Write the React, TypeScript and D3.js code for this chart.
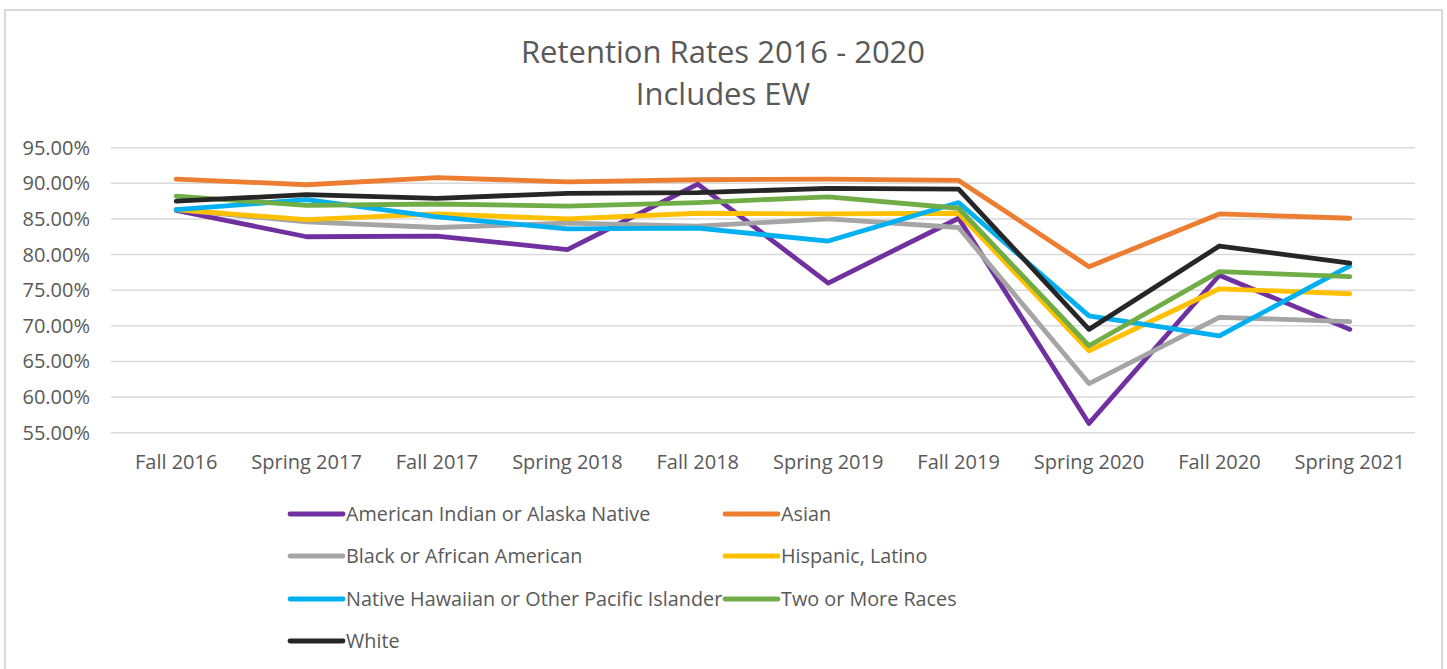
import React from "react";
import * as d3 from "d3";

const categories = [
  "Fall 2016", "Spring 2017", "Fall 2017", "Spring 2018", "Fall 2018",
  "Spring 2019", "Fall 2019", "Spring 2020", "Fall 2020", "Spring 2021",
];

const americanIndian = [86.2, 82.5, 82.6, 80.7, 89.9, 76.0, 85.1, 56.3, 77.1, 69.5];
const asian = [90.6, 89.8, 90.8, 90.2, 90.5, 90.6, 90.4, 78.3, 85.7, 85.1];
const black = [86.3, 84.6, 83.8, 84.4, 84.0, 85.0, 83.8, 61.9, 71.2, 70.6];
const hispanic = [86.3, 84.9, 85.7, 85.0, 85.8, 85.7, 85.8, 66.5, 75.2, 74.5];
const hawaiian = [86.3, 87.7, 85.3, 83.6, 83.7, 81.9, 87.3, 71.4, 68.6, 78.4];
const twoOrMore = [88.2, 86.9, 87.1, 86.8, 87.3, 88.1, 86.5, 67.2, 77.6, 76.9];
const white = [87.5, 88.4, 87.9, 88.6, 88.7, 89.3, 89.2, 69.5, 81.2, 78.8];

const yTicks = [55, 60, 65, 70, 75, 80, 85, 90, 95];

const seriesNames = [
  "American Indian or Alaska Native",
  "Asian",
  "Black or African American",
  "Hispanic, Latino",
  "Native Hawaiian or Other Pacific Islander",
  "Two or More Races",
  "White",
];
const seriesValues = [americanIndian, asian, black, hispanic, hawaiian, twoOrMore, white];
const seriesColors = ["#7030a0", "#ed7d31", "#a5a5a5", "#ffc000", "#00b0f0", "#70ad47", "#262626"];

// draw order (back to front) approximating the original
const drawOrder = [0, 2, 3, 4, 5, 6, 1];

const W = 1447;
const H = 669;
const FONT = "'Open Sans', sans-serif";
const TEXT = "#595959";

export default function App() {
  const plotLeft = 111;
  const plotRight = 1415;
  const x = d3.scaleBand<string>().domain(categories).range([plotLeft, plotRight]);
  const y = d3.scaleLinear().domain([55, 95]).range([432.7, 147.7]);
  const cx = (c: string) => (x(c) as number) + x.bandwidth() / 2;

  const line = d3
    .line<number>()
    .x((_, i) => cx(categories[i]))
    .y((d) => y(d));

  const legendCols = [290, 725];
  const legendRows = [514, 556, 599, 641];

  return (
    <svg
      width={W}
      height={H}
      style={{ position: "absolute", left: 0, top: 0, background: "#fff" }}
      fontFamily={FONT}
    >
      <rect x={5} y={10} width={1437} height={680} fill="#fff" stroke="#d9d9d9" strokeWidth={2} />
      <text x={723} y={63} textAnchor="middle" fontSize={31} fill={TEXT}>
        Retention Rates 2016 - 2020
      </text>
      <text x={723} y={105} textAnchor="middle" fontSize={31} fill={TEXT}>
        Includes EW
      </text>

      {yTicks.map((t) => (
        <g key={t}>
          <line x1={plotLeft} x2={plotRight} y1={y(t)} y2={y(t)} stroke="#d9d9d9" strokeWidth={1.5} />
          <text x={90} y={y(t)} dy="0.35em" textAnchor="end" fontSize={20} fill={TEXT}>
            {t.toFixed(2) + "%"}
          </text>
        </g>
      ))}

      {categories.map((c) => (
        <text key={c} x={cx(c)} y={469} textAnchor="middle" fontSize={20} fill={TEXT}>
          {c}
        </text>
      ))}

      {drawOrder.map((si) => (
        <path
          key={si}
          d={line(seriesValues[si]) || ""}
          fill="none"
          stroke={seriesColors[si]}
          strokeWidth={4.8}
          strokeLinejoin="round"
          strokeLinecap="round"
        />
      ))}

      {seriesNames.map((name, i) => {
        const lx = legendCols[i % 2];
        const ly = legendRows[Math.floor(i / 2)];
        return (
          <g key={name}>
            <line x1={lx} x2={lx + 53} y1={ly} y2={ly} stroke={seriesColors[i]} strokeWidth={4.8} strokeLinecap="round" />
            <text x={lx + 56} y={ly} dy="0.35em" fontSize={19.8} fill={TEXT}>
              {name}
            </text>
          </g>
        );
      })}
    </svg>
  );
}
